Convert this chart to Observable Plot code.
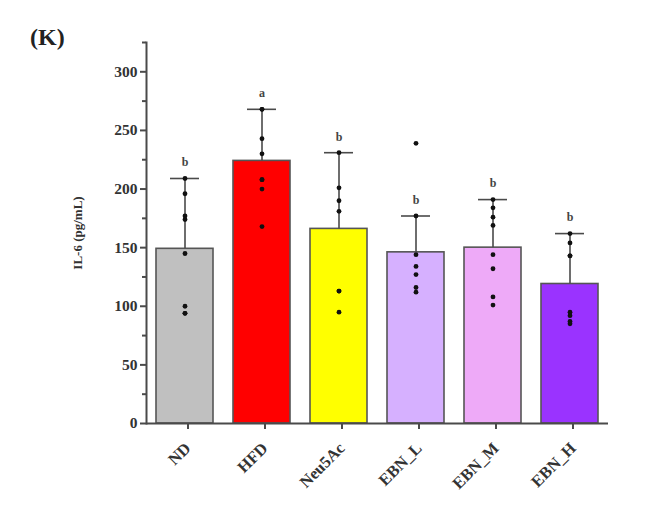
<!DOCTYPE html>
<html><head><meta charset="utf-8">
<script src="https://cdn.jsdelivr.net/npm/d3@7"></script>
<script src="https://cdn.jsdelivr.net/npm/@observablehq/plot@0.6"></script>
<style>
body{margin:0;background:#fff;}
#wrap{position:relative;width:650px;height:519px;font-family:"Liberation Serif","Times New Roman",serif;}
#title{position:absolute;left:30px;top:24px;font-weight:bold;font-size:24px;color:#222;}
#wrap svg{display:block;}
</style></head><body><div id="wrap"><div id="title">(K)</div></div>
<script>
const groups = ["ND", "HFD", "Neu5Ac", "EBN_L", "EBN_M", "EBN_H"];
const means = [149, 224, 166, 146, 150, 119];
const sds = [60, 44, 65, 31, 41, 43];
const letters = ["b", "a", "b", "b", "b", "b"];
const colors = ["#c0c0c0", "#ff0000", "#ffff00", "#d6b0ff", "#eeaaf8", "#9a33ff"];
const ndPoints = [209, 196, 177, 174, 145, 100, 94, 94];
const hfdPoints = [268, 268, 243, 230, 208, 208, 200, 168];
const neuPoints = [231, 201, 190, 181, 113, 113, 95];
const ebnLPoints = [239, 177, 144, 134, 127, 116, 112];
const ebnMPoints = [191, 184, 176, 169, 144, 132, 108, 101];
const ebnHPoints = [162, 154, 143, 143, 95, 92, 87, 85];
const yTicks = [0, 50, 100, 150, 200, 250, 300];
const yMinorTicks = [25, 75, 125, 175, 225, 275, 325];

const summary = groups.map((g, i) => ({group: g, mean: means[i], sd: sds[i], top: means[i] + sds[i], letter: letters[i]}));
const pointSets = [ndPoints, hfdPoints, neuPoints, ebnLPoints, ebnMPoints, ebnHPoints];
const points = pointSets.flatMap((arr, i) => arr.map(v => ({group: groups[i], value: v})));

const axisColor = "#4a4a4a";
const plot = Plot.plot({
  width: 650,
  height: 519,
  marginLeft: 146,
  marginRight: 42,
  marginTop: 42,
  marginBottom: 96,
  style: {fontFamily: "'Liberation Serif', 'Times New Roman', serif", background: "#fff", color: "#333"},
  x: {domain: groups, paddingInner: 0.263, paddingOuter: 0.12},
  y: {domain: [0, 325]},
  color: {domain: groups, range: colors},
  marks: [
    Plot.barY(summary, {x: "group", y: "mean", fill: "group", stroke: "#555", strokeWidth: 1.6}),
    Plot.ruleX(summary, {x: "group", y1: "mean", y2: "top", stroke: axisColor, strokeWidth: 1.6}),
    Plot.tickY(summary, {x: "group", y: "top", inset: 14, stroke: axisColor, strokeWidth: 1.6}),
    Plot.dot(points, {x: "group", y: "value", r: 2.4, fill: "#111", stroke: "none"}),
    Plot.text(summary, {x: "group", y: "top", text: "letter", dy: -16, fontSize: 12, fontWeight: "bold", fill: "#444"}),
    Plot.ruleY([0], {stroke: axisColor, strokeWidth: 2}),
    Plot.frame({anchor: "left", stroke: axisColor, strokeWidth: 2}),
    Plot.axisY({ticks: yTicks, tickSize: 6, tickPadding: 3, strokeWidth: 2, stroke: axisColor, fontSize: 15.5, fontWeight: "bold", fill: "#333",
      label: "IL-6 (pg/mL)", labelAnchor: "center", labelOffset: 74, labelArrow: "none"}),
    Plot.axisY({ticks: yMinorTicks, tickSize: 4, strokeWidth: 2, stroke: axisColor, text: null, label: null}),
    Plot.axisX({tickRotate: -45, tickSize: 6, tickPadding: 16, dx: 3, strokeWidth: 2, stroke: axisColor, fontSize: 16.5, fontWeight: "bold", fill: "#333", label: null})
  ]
});
plot.querySelectorAll("[aria-label='y-axis label'] text, [aria-label='y-axis label']").forEach(e => {
  e.setAttribute("font-size", "13"); e.setAttribute("font-weight", "bold");
});
document.getElementById("wrap").appendChild(plot);
</script>
</body></html>
